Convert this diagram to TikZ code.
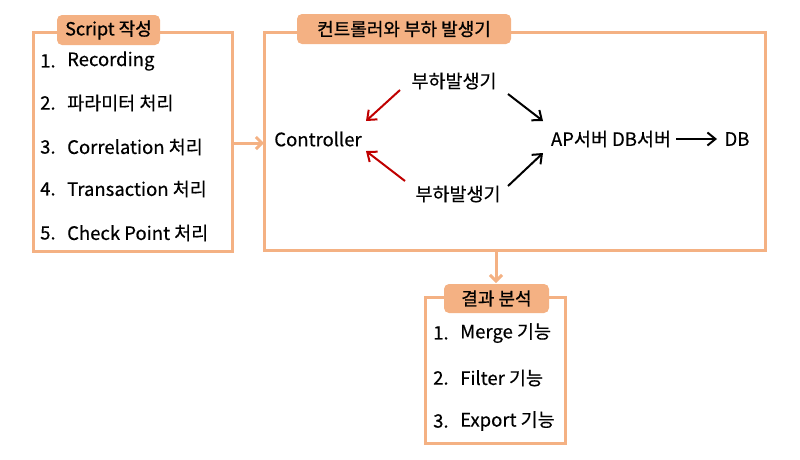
\documentclass[tikz,border=0pt]{standalone}
\usepackage{fontspec}
\setmainfont{Noto Sans CJK KR}[FakeBold=0.4]
\newfontfamily\tabfont{Noto Sans CJK KR}[FakeBold=0.9]
\usetikzlibrary{arrows.meta}
\definecolor{peach}{HTML}{F4B183}
\definecolor{darkred}{HTML}{C00000}
\begin{document}
\begin{tikzpicture}[x=1pt,y=-1pt,
  frame/.style={draw=peach,line width=3pt},
  tab/.style={fill=peach,rounded corners=5pt,inner sep=0pt,font=\tabfont\fontsize{18}{21}\selectfont},
  txt/.style={anchor=west,inner sep=0pt,font=\fontsize{18.5}{21}\selectfont},
  lbl/.style={inner sep=1pt,font=\fontsize{18.5}{21}\selectfont},
  flow/.style={draw=peach,line width=3pt,-{Straight Barb[length=6pt,width=12pt]}},
  redarr/.style={draw=darkred,line width=2pt,-{Straight Barb[length=8pt,width=13pt]}},
  blkarr/.style={draw=black,line width=2pt,-{Straight Barb[length=8pt,width=13pt]}}]
\useasboundingbox (0,0) rectangle (800,459);
% boxes
\draw[frame] (33,32) rectangle (232,251);
\draw[frame] (264,32) rectangle (765,250);
\draw[frame] (425,297) rectangle (565,443);
% tabs
\node[tab,minimum width=103pt,minimum height=30pt] (t1) at (108.5,30) {Script 작성};
\node[tab,minimum width=214pt,minimum height=30pt] (t2) at (404,29) {컨트롤러와 부하 발생기};
\node[tab,minimum width=105pt,minimum height=29pt] (t3) at (496.5,298.5) {결과 분석};
% left list
\foreach \y/\n/\t in {61/1./Recording,103/2./파라미터 처리,147/3./Correlation 처리,189/4./Transaction 처리,233/5./Check Point 처리}{
  \node[txt] at (40,\y) {\n};
  \node[txt] at (67,\y) {\t};
}
% bottom list
\foreach \y/\n/\t in {333/1./Merge 기능,378/2./Filter 기능,421/3./Export 기능}{
  \node[txt] at (433,\y) {\n};
  \node[txt] at (460,\y) {\t};
}
% middle content
\node[lbl] (ctrl) at (318,139) {Controller};
\node[lbl] (g1) at (454,81) {부하발생기};
\node[lbl] (g2) at (458,194) {부하발생기};
\node[lbl] (ap) at (611,139) {AP서버 DB서버};
\node[lbl] (db) at (737,139) {DB};
\coordinate (c1) at (366,121);
\coordinate (c2) at (366,151);
\coordinate (a1) at (543,121);
\coordinate (a2) at (543,153);
\draw[redarr] (400,90) -- (c1);
\draw[redarr] (405,181) -- (c2);
\draw[blkarr] (508,94) -- (a1);
\draw[blkarr] (508,186) -- (a2);
\coordinate (s1) at (676,139);
\coordinate (s2) at (717,139);
\draw[blkarr] (s1) -- (s2);
% flow arrows
\coordinate (l1) at (232,143);
\coordinate (m1) at (264,143);
\draw[flow] (l1) -- (m1);
\coordinate (m2) at (496,250);
\coordinate (b2) at (496,283);
\draw[flow] (m2) -- (b2);
\end{tikzpicture}
\end{document}
